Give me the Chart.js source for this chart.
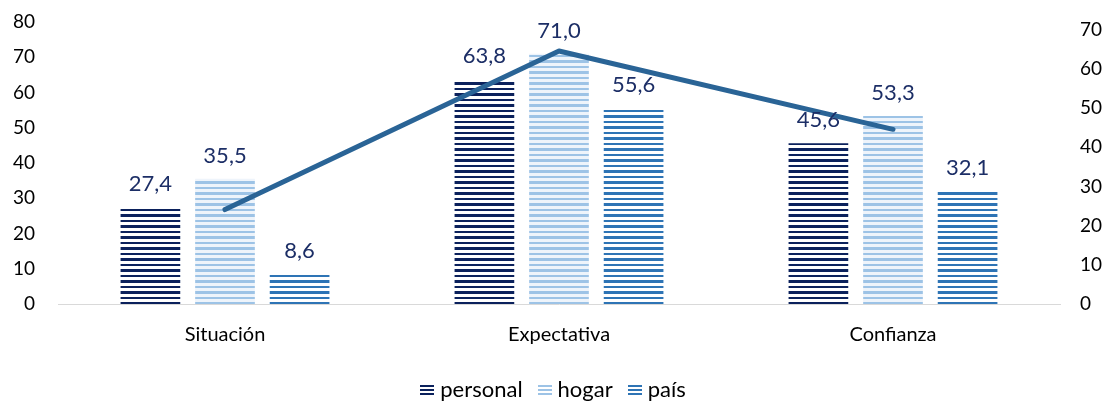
<!DOCTYPE html>
<html>
<head>
<meta charset="utf-8">
<script src="https://cdn.jsdelivr.net/npm/chart.js@4/dist/chart.umd.min.js"></script>
<style>
  html, body { margin: 0; padding: 0; background: #fff; }
  #wrap { width: 1111px; height: 401px; }
</style>
</head>
<body>
<div id="wrap"><canvas id="chart" width="1111" height="401"></canvas></div>
<script>
const categories = ['Situación', 'Expectativa', 'Confianza'];
const personal = [27.4, 63.8, 45.6];
const hogar = [35.5, 71.0, 53.3];
const pais = [8.6, 55.6, 32.1];
const indice = [24.1, 64.6, 44.6]; // line, right axis
const leftTicks = [0, 10, 20, 30, 40, 50, 60, 70, 80];
const rightTicks = [0, 10, 20, 30, 40, 50, 60, 70];

const FONT = 'Lato, "Open Sans", sans-serif';

// horizontal stripe fill like the excel pattern
function stripes(color, gap) {
  const c = document.createElement('canvas');
  c.width = 8; c.height = 11;
  const g = c.getContext('2d');
  g.fillStyle = gap;
  g.fillRect(0, 0, 8, 11);
  g.fillStyle = color;
  g.fillRect(0, 0, 8, 2);
  g.fillRect(0, 5, 8, 3);
  return g.createPattern(c, 'repeat');
}

function legendIcon(color) {
  const c = document.createElement('canvas');
  c.width = 14; c.height = 12;
  const g = c.getContext('2d');
  g.fillStyle = color;
  g.fillRect(0, 1, 14, 2);
  g.fillRect(0, 5, 14, 2);
  g.fillRect(0, 9, 14, 2);
  return c;
}

const colPersonal = '#0b215c';
const colHogar = '#9dc3e6';
const colPais = '#2e74b5';

const barLabels = {
  id: 'barLabels',
  afterDatasetsDraw(chart) {
    const ctx = chart.ctx;
    ctx.save();
    ctx.font = '22px ' + FONT;
    ctx.fillStyle = '#1c2e66';
    ctx.textAlign = 'center';
    ctx.textBaseline = 'alphabetic';
    chart.data.datasets.forEach((ds, i) => {
      if (ds.type === 'line') return;
      chart.getDatasetMeta(i).data.forEach((bar, j) => {
        const txt = ds.data[j].toFixed(1).replace('.', ',');
        ctx.fillText(txt, bar.x, bar.y - 16);
      });
    });
    ctx.restore();
  }
};

// tick padding would otherwise also pad the top of the plot
function fitY(width) {
  return s => { s.width = width; s.paddingTop = 12; s.paddingBottom = 12; };
}

const ctx = document.getElementById('chart').getContext('2d');
const chart = new Chart(ctx, {
  type: 'bar',
  data: {
    labels: categories,
    datasets: [
      {
        type: 'line',
        label: 'índice',
        data: indice,
        yAxisID: 'y2',
        borderColor: '#2a6496',
        borderWidth: 5,
        borderCapStyle: 'round',
        borderJoinStyle: 'round',
        pointRadius: 0,
        fill: false,
        tension: 0,
        order: 0
      },
      { label: 'personal', data: personal, backgroundColor: stripes(colPersonal, '#ffffff'), order: 1, legendIcon: legendIcon(colPersonal) },
      { label: 'hogar', data: hogar, backgroundColor: stripes(colHogar, '#eef4fb'), order: 1, legendIcon: legendIcon(colHogar) },
      { label: 'país', data: pais, backgroundColor: stripes(colPais, '#ffffff'), order: 1, legendIcon: legendIcon(colPais) }
    ]
  },
  options: {
    responsive: false,
    animation: false,
    events: [],
    layout: { padding: { top: 22, bottom: -10 } },
    datasets: { bar: { categoryPercentage: 0.67, barPercentage: 0.8 } },
    plugins: {
      tooltip: { enabled: false },
      legend: {
        position: 'bottom',
        labels: {
          font: { size: 22, family: FONT },
          color: '#000',
          usePointStyle: true,
          pointStyleWidth: 4,
          padding: 20,
          filter: (item, data) => data.datasets[item.datasetIndex].type !== 'line',
          generateLabels(chart) {
            return chart.data.datasets.map((ds, i) => ({
              text: ds.label,
              pointStyle: ds.legendIcon,
              datasetIndex: i,
              hidden: false,
              lineWidth: 0
            }));
          }
        }
      }
    },
    scales: {
      x: {
        afterFit: s => { s.height = 55; },
        grid: { display: false, drawTicks: false },
        border: { display: true, color: '#d9d9d9', width: 1 },
        ticks: { font: { size: 20, family: FONT }, color: '#000', padding: 19 }
      },
      y: {
        position: 'left',
        min: 0, max: 80,
        afterBuildTicks: s => { s.ticks = leftTicks.map(v => ({ value: v })); },
        afterFit: fitY(58),
        grid: { display: false, drawTicks: false },
        border: { display: false },
        ticks: { font: { size: 19, family: FONT }, color: '#000', padding: 23 }
      },
      y2: {
        position: 'right',
        min: 0, max: 72,
        afterBuildTicks: s => { s.ticks = rightTicks.map(v => ({ value: v })); },
        afterFit: fitY(51),
        grid: { display: false, drawTicks: false },
        border: { display: false },
        ticks: { font: { size: 19, family: FONT }, color: '#000', padding: 20 }
      }
    }
  },
  plugins: [barLabels]
});
</script>
</body>
</html>
